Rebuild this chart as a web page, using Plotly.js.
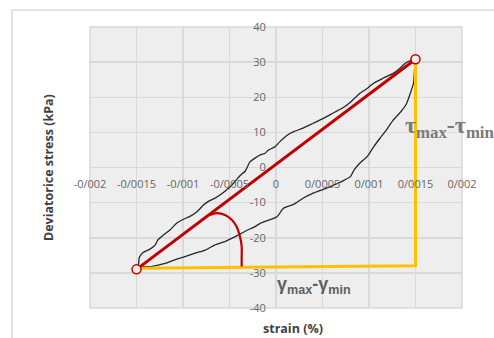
<!DOCTYPE html>
<html>
<head>
<meta charset="utf-8">
<script src="https://cdn.plot.ly/plotly-3.0.1.min.js"></script>
<style>html,body{margin:0;padding:0;background:#fff;}#chart{width:494px;height:338px;}</style>
</head>
<body>
<div id="chart"></div>
<script>
// Hysteresis loop: loading (upper) branch then unloading (lower) branch
const upperStrain = [-0.00149, -0.00148, -0.00147, -0.00143, -0.00136, -0.00130, -0.00127, -0.00121, -0.00114, -0.00107, -0.00100, -0.00093, -0.00085, -0.00078, -0.00073, -0.00066, -0.00058, -0.00051, -0.00044, -0.00039, -0.00033, -0.00028, -0.00017, -0.00012, -0.00008, -0.00001, 0.00004, 0.00012, 0.00019, 0.00029, 0.00040, 0.00051, 0.00062, 0.00072, 0.00080, 0.00090, 0.00098, 0.00105, 0.00115, 0.00126, 0.00133, 0.00139, 0.00144, 0.00148];
const upperStress = [-28.6, -28.0, -25.6, -24.2, -23.3, -22.1, -20.6, -19.2, -17.8, -15.9, -14.8, -14.0, -12.6, -10.7, -9.7, -8.8, -7.4, -5.9, -4.0, -2.4, -1.0, 1.6, 3.6, 4.0, 5.0, 5.9, 7.3, 9.2, 10.2, 11.2, 12.6, 14.0, 15.6, 17.0, 18.6, 21.1, 22.5, 24.0, 25.4, 26.8, 28.2, 29.7, 30.4, 30.8];
const lowerStrain = [0.00150, 0.00149, 0.00148, 0.00144, 0.00140, 0.00134, 0.00126, 0.00119, 0.00112, 0.00105, 0.00098, 0.00090, 0.00084, 0.00080, 0.00072, 0.00062, 0.00051, 0.00040, 0.00030, 0.00019, 0.00008, 0.00001, -0.00017, -0.00023, -0.00032, -0.00044, -0.00055, -0.00066, -0.00076, -0.00087, -0.00098, -0.00109, -0.00119, -0.00127, -0.00134, -0.00141, -0.00146, -0.00149];
const lowerStress = [30.6, 28.0, 24.2, 20.8, 18.0, 15.8, 13.5, 10.8, 8.4, 5.9, 3.1, 1.2, -0.7, -2.6, -3.8, -5.0, -6.2, -7.3, -8.6, -10.5, -11.6, -14.0, -15.9, -16.9, -18.0, -19.7, -21.1, -22.1, -23.5, -24.4, -25.4, -26.3, -27.3, -27.8, -28.2, -28.2, -28.3, -28.6];

// Secant line between the extreme points
const secantStrain = [-0.0015, 0.0015];
const secantStress = [-29.0, 30.8];

// Strain / stress amplitude guide lines
const guideStrain = [-0.0015, 0.0015, 0.0015];
const guideStress = [-28.7, -28.0, 30.8];

// Angle arc
const arcStrain = [-0.00071, -0.000638, -0.000548, -0.000476, -0.000423, -0.000387, -0.000369, -0.000369, -0.000369];
const arcStress = [-13.5, -13.0, -13.5, -14.9, -16.9, -19.7, -22.5, -25.4, -28.2];

// Tick labels
const xTickVals = [-0.002, -0.0015, -0.001, -0.0005, 0, 0.0005, 0.001, 0.0015, 0.002];
const xTickText = ['-0/002', '-0/0015', '-0/001', '-0/0005', '0', '0/0005', '0/001', '0/0015', '0/002'];
const yTickVals = [-40, -30, -20, -10, 0, 10, 20, 30, 40];
const yTickText = ['-40', '-30', '-20', '-10', '0', '10', '20', '30', '40'];

const loopStrain = upperStrain.concat(lowerStrain);
const loopStress = upperStress.concat(lowerStress);

const traces = [
  {x: loopStrain, y: loopStress, mode: 'lines', line: {color: '#262626', width: 1.3, shape: 'spline', smoothing: 0.5}, hoverinfo: 'skip'},
  {x: guideStrain, y: guideStress, mode: 'lines', line: {color: '#FFC000', width: 3}, hoverinfo: 'skip'},
  {x: arcStrain, y: arcStress, mode: 'lines', line: {color: '#C00000', width: 2.2, shape: 'spline', smoothing: 1}, hoverinfo: 'skip'},
  {x: secantStrain, y: secantStress, mode: 'lines+markers', line: {color: '#C00000', width: 3},
   marker: {symbol: 'circle', size: 9, color: '#fbeaea', line: {color: '#C00000', width: 1.5}}, hoverinfo: 'skip'}
];

const gridC = '#d9d9d9';
const tickFont = {family: 'Open Sans, sans-serif', size: 11, color: '#666666'};

const layout = {
  width: 494, height: 338,
  margin: {l: 90, r: 32, t: 27, b: 30},
  paper_bgcolor: '#ffffff',
  plot_bgcolor: '#eeeeee',
  showlegend: false,
  xaxis: {
    range: [-0.002, 0.002], tickvals: xTickVals, ticktext: xTickText,
    anchor: 'free', position: 0.5,
    showgrid: true, gridcolor: gridC, gridwidth: 1.5,
    zeroline: true, zerolinecolor: gridC, zerolinewidth: 1.5,
    showline: false, ticks: 'outside', ticklen: 6, tickcolor: 'rgba(0,0,0,0)',
    tickfont: tickFont, fixedrange: true
  },
  yaxis: {
    range: [-40, 40], tickvals: yTickVals, ticktext: yTickText,
    anchor: 'free', position: 0.5,
    showgrid: true, gridcolor: gridC, gridwidth: 1.5,
    zeroline: true, zerolinecolor: gridC, zerolinewidth: 1.5,
    showline: false, ticks: 'outside', ticklen: 8, tickcolor: 'rgba(0,0,0,0)',
    tickfont: tickFont, fixedrange: true
  },
  shapes: [
    {type: 'rect', xref: 'paper', yref: 'paper', x0: 0, x1: 1, y0: 0, y1: 1, line: {color: gridC, width: 1.5}, layer: 'below'},
    {type: 'rect', xref: 'paper', yref: 'paper', x0: -0.2097, x1: 1.12, y0: -0.15, y1: 1.0605, line: {color: '#d9d9d9', width: 1.5}, layer: 'below'}
  ],
  annotations: [
    {xref: 'paper', yref: 'paper', x: -0.1129, y: 0.498, xanchor: 'center', yanchor: 'middle',
     text: '<b>Deviatorice stress (kPa)</b>', textangle: -90, showarrow: false,
     font: {family: 'Open Sans, sans-serif', size: 12.5, color: '#404040'}},
    {xref: 'paper', yref: 'paper', x: 0.5457, y: -0.0747, xanchor: 'center', yanchor: 'middle',
     text: '<b>strain (%)</b>', showarrow: false,
     font: {family: 'Open Sans, sans-serif', size: 12.5, color: '#404040'}},
    {xref: 'x', yref: 'y', x: 0.00187, y: 11.5, xanchor: 'center', yanchor: 'middle',
     text: '<b>τ<sub>max</sub>-τ<sub>min</sub></b>', showarrow: false,
     font: {family: 'Liberation Serif, serif', size: 24, color: '#7a7a7a'}},
    {xref: 'x', yref: 'y', x: 0.000409, y: -33.5, xanchor: 'center', yanchor: 'middle',
     text: '<b>γ<sub>max</sub>-γ<sub>min</sub></b>', showarrow: false,
     font: {family: 'Liberation Sans, sans-serif', size: 18, color: '#606060'}}
  ]
};

Plotly.newPlot('chart', traces, layout, {displayModeBar: false, staticPlot: true});
</script>
</body>
</html>
